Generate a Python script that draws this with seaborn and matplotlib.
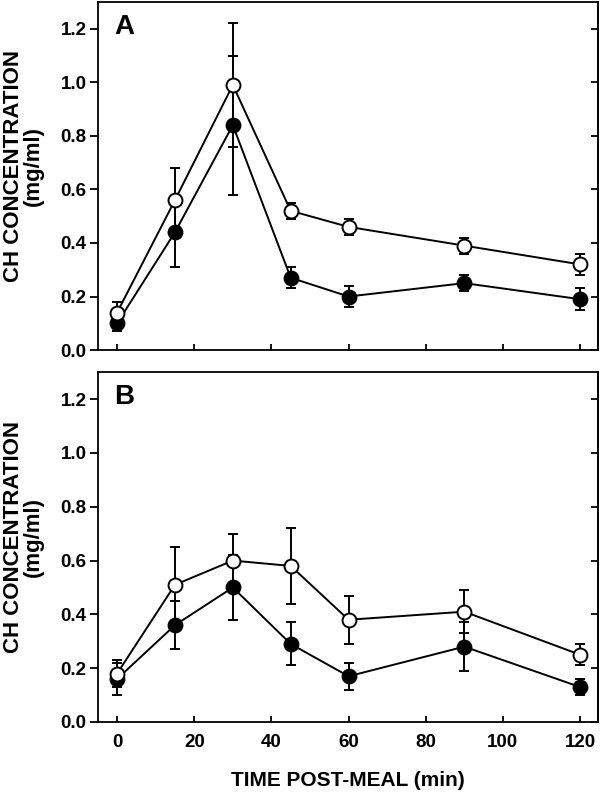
import pandas as pd
import seaborn as sns
import matplotlib.pyplot as plt

time = [0, 15, 30, 45, 60, 90, 120]

# panel A
a_open = [0.14, 0.56, 0.99, 0.52, 0.46, 0.39, 0.32]
a_open_err = [0.04, 0.12, 0.23, 0.03, 0.03, 0.03, 0.04]
a_filled = [0.10, 0.44, 0.84, 0.27, 0.20, 0.25, 0.19]
a_filled_err = [0.03, 0.13, 0.26, 0.04, 0.04, 0.03, 0.04]

# panel B
b_open = [0.18, 0.51, 0.60, 0.58, 0.38, 0.41, 0.25]
b_open_err = [0.05, 0.14, 0.10, 0.14, 0.09, 0.08, 0.04]
b_filled = [0.16, 0.36, 0.50, 0.29, 0.17, 0.28, 0.13]
b_filled_err = [0.06, 0.09, 0.12, 0.08, 0.05, 0.09, 0.03]

xticks = [0, 20, 40, 60, 80, 100, 120]
yticks = [0.0, 0.2, 0.4, 0.6, 0.8, 1.0, 1.2]

panels = [
    ("A", a_open, a_open_err, a_filled, a_filled_err),
    ("B", b_open, b_open_err, b_filled, b_filled_err),
]

sns.set_style("ticks")
plt.rcParams["font.family"] = ["Liberation Sans", "DejaVu Sans"]
plt.rcParams["text.color"] = "black"
plt.rcParams["axes.labelcolor"] = "black"
plt.rcParams["xtick.color"] = "black"
plt.rcParams["ytick.color"] = "black"

fig = plt.figure(figsize=(6, 7.92), dpi=100)
ax_a = fig.add_axes([0.163, 0.558, 0.834, 0.4395])
ax_b = fig.add_axes([0.163, 0.0884, 0.834, 0.4416])

for ax, (letter, op, op_err, fi, fi_err) in zip([ax_a, ax_b], panels):
    df = pd.DataFrame({"time": time, "open": op, "filled": fi})
    # error bars underneath the markers
    ax.errorbar(time, fi, yerr=fi_err, fmt="none", ecolor="black",
                elinewidth=1.4, capsize=3.5, capthick=1.4, zorder=1)
    ax.errorbar(time, op, yerr=op_err, fmt="none", ecolor="black",
                elinewidth=1.4, capsize=3.5, capthick=1.4, zorder=1)
    sns.lineplot(data=df, x="time", y="filled", ax=ax, color="black",
                 marker="o", markersize=10, markerfacecolor="black",
                 markeredgecolor="black", markeredgewidth=1.4,
                 linewidth=1.4, zorder=3)
    sns.lineplot(data=df, x="time", y="open", ax=ax, color="black",
                 marker="o", markersize=10, markerfacecolor="white",
                 markeredgecolor="black", markeredgewidth=1.4,
                 linewidth=1.4, zorder=4)

    ax.set_xlim(-5, 124.7)
    ax.set_ylim(0, 1.3)
    ax.set_xticks(xticks)
    ax.set_yticks(yticks)
    ax.set_yticklabels([f"{v:.1f}" for v in yticks],
                       fontsize=13.5, fontweight="bold")
    ax.tick_params(axis="y", which="both", direction="out", length=6,
                   width=1.3, pad=2, left=True, right=False)
    ax.tick_params(axis="x", direction="in", length=4.5, width=1.3,
                   pad=9, top=False)
    for side in ax.spines.values():
        side.set_linewidth(1.3)
        side.set_color("black")
    ax.set_xlabel("")
    ax.set_ylabel("CH CONCENTRATION\n(mg/ml)", fontsize=16,
                  fontweight="bold",
                  family=["Liberation Sans Narrow", "Liberation Sans"],
                  linespacing=0.95)
    ax.yaxis.set_label_coords(-0.108, 0.53)
    ax.text(0.033, 0.965, letter, transform=ax.transAxes, fontsize=20,
            fontweight="bold", va="top", ha="left")
    # inward ticks on the right spine
    sec = ax.secondary_yaxis("right")
    sec.set_yticks(yticks)
    sec.set_yticklabels([])
    sec.tick_params(direction="in", length=5, width=1.3)
    sec.spines["right"].set_linewidth(1.3)

ax_a.set_xticklabels([])
ax_b.set_xticklabels([str(t) for t in xticks], fontsize=13.5,
                     fontweight="bold")
ax_b.set_xlabel("TIME POST-MEAL (min)", fontsize=15, fontweight="bold",
                labelpad=14)

fig.savefig("out.png", dpi=100)
